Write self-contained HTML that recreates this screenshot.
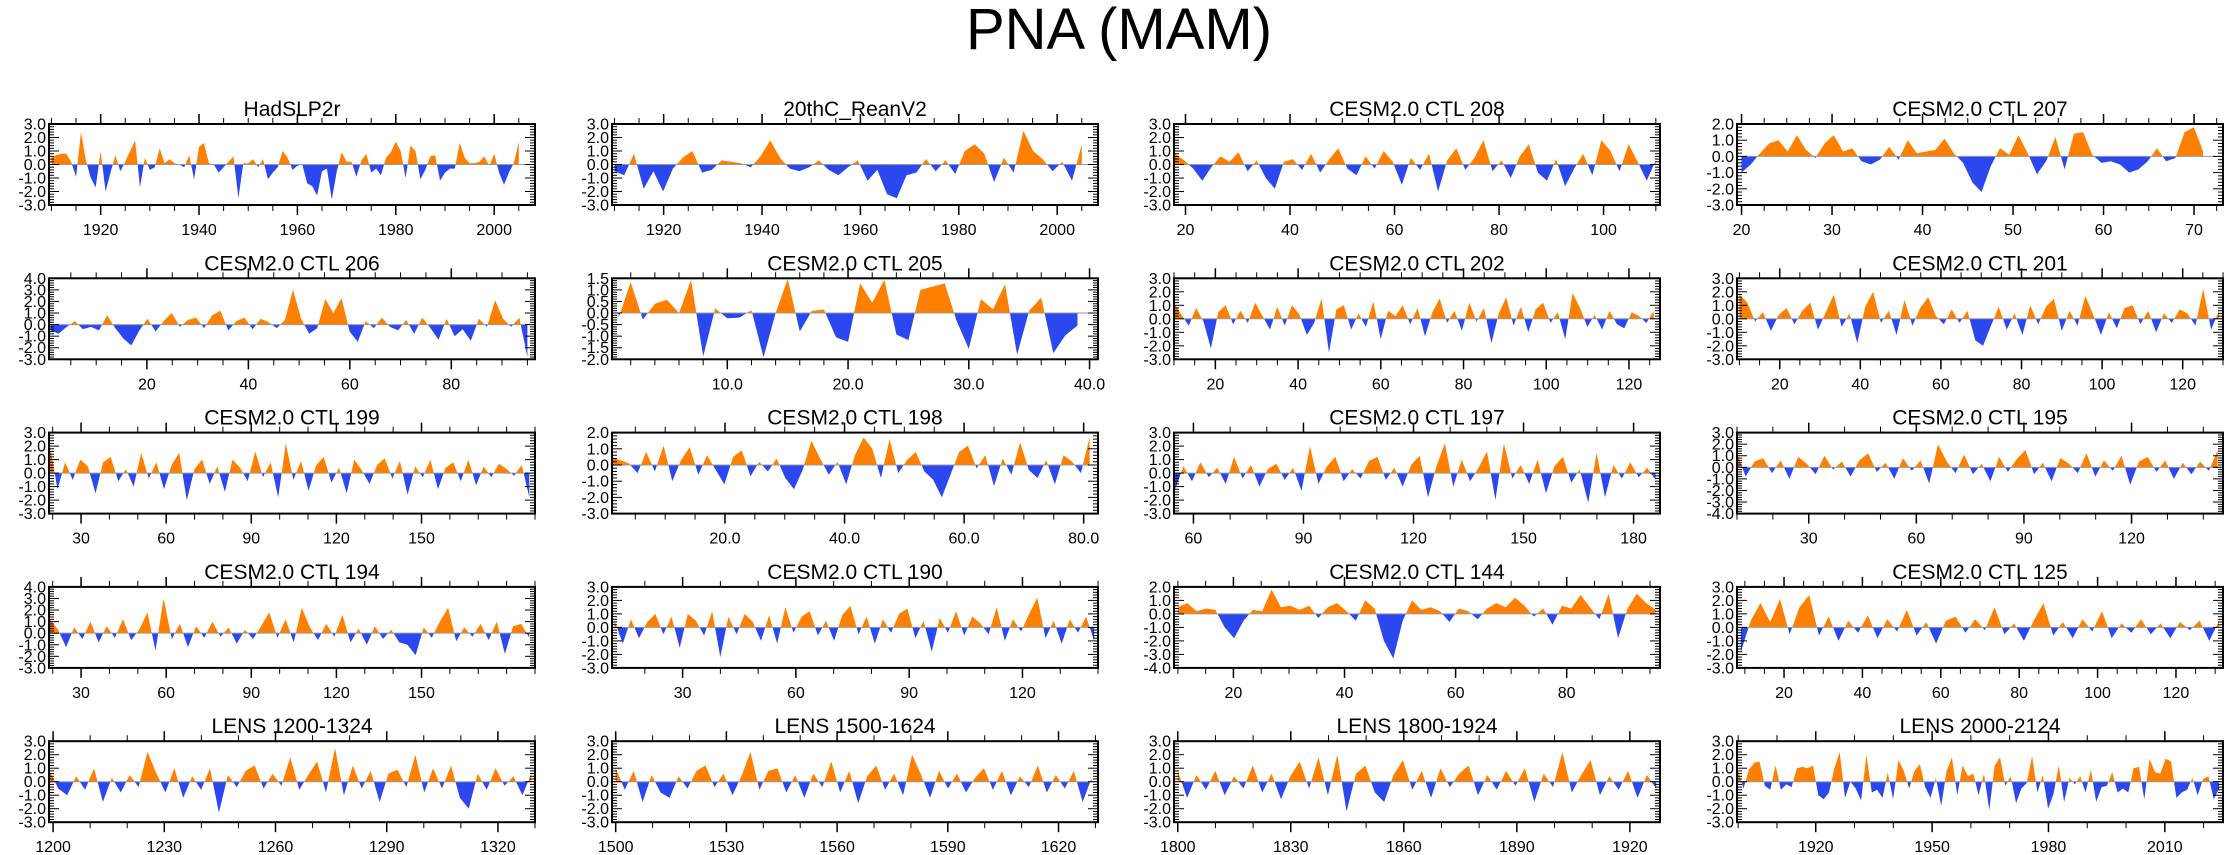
<!DOCTYPE html>
<html><head><meta charset="utf-8"><title>PNA (MAM)</title>
<style>
html,body{margin:0;padding:0;background:#fff;}
svg{display:block;font-family:"Liberation Sans",sans-serif;}
</style></head>
<body>
<svg id="fig" width="2238" height="855" viewBox="0 0 2238 855" xmlns="http://www.w3.org/2000/svg">
<text x="1119" y="49" text-anchor="middle" font-size="58" fill="#000">PNA (MAM)</text>
</svg>
<script>
const titles=["HadSLP2r","20thC_ReanV2","CESM2.0 CTL 208","CESM2.0 CTL 207","CESM2.0 CTL 206","CESM2.0 CTL 205","CESM2.0 CTL 202","CESM2.0 CTL 201","CESM2.0 CTL 199","CESM2.0 CTL 198","CESM2.0 CTL 197","CESM2.0 CTL 195","CESM2.0 CTL 194","CESM2.0 CTL 190","CESM2.0 CTL 144","CESM2.0 CTL 125","LENS 1200-1324","LENS 1500-1624","LENS 1800-1924","LENS 2000-2124"];
const yMin=[-3,-3,-3,-3,-3,-2,-3,-3,-3,-3,-3,-4,-3,-3,-4,-3,-3,-3,-3,-3];
const yMax=[3,3,3,2,4,1.5,3,3,3,2,3,3,4,3,2,3,3,3,3,3];
const yStep=[1,1,1,1,1,0.5,1,1,1,1,1,1,1,1,1,1,1,1,1,1];
const xAxisMin=[1909.5,1909.5,17.8,19.5,0.7,0.45,10,9.4,18.7,1.1,54.7,10,18.7,11.3,9.3,8,1198.9,1499,1799,1899.7];
const xAxisMax=[2008.3,2008.3,110.8,73.2,96.5,40.7,127.5,130,190,82.4,187.2,145.5,190,140,96.8,132,1330,1630.7,1928,2025];
const xDataStart=[1910,1910,18,20,1,1,10,10,19,1,55,10,19,12,10,9,1199,1500,1800,1900];
const xDataEnd=[2005,2005,110,71,95,39,126,129,188,81,186,144,188,139,96,131,1329,1629,1927,2024];
const xTickStart=[1920,1920,20,20,20,10,20,20,30,20,60,30,30,30,20,20,1200,1500,1800,1920];
const xTickEnd=[2000,2000,100,70,80,40,120,120,150,80,180,120,150,120,80,120,1320,1620,1920,2010];
const xTickStep=[20,20,20,10,20,10,20,20,30,20,30,30,30,30,20,20,30,30,30,30];
const xMinorStep=[5,5,5,2.5,5,2,5,5,10,5,10,10,10,10,5,5,10,10,10,10];
const xTickDecimals=[0,0,0,0,0,1,0,0,0,1,0,0,0,0,0,0,0,0,0,0];

const v1=[0.5,0.7,0.8,0.8,0.2,-0.9,2.4,0.3,-1.0,-1.7,1.0,-2.0,-0.6,0.7,-0.5,0.2,1.0,1.8,-1.7,0.5,-0.4,-0.2,1.2,0.1,0.4,0.1,0.0,-0.2,0.7,-1.1,1.3,1.6,0.1,0.0,-0.6,-0.2,0.2,0.6,-2.5,0.1,0.1,0.4,-0.2,0.4,-1.1,-0.6,-0.2,1.0,0.5,-0.4,-0.1,0.0,-1.4,-1.6,-2.3,-0.5,-0.3,-2.6,-0.5,0.9,0.2,0.2,-0.9,0.3,0.8,-0.6,-0.3,-0.8,0.5,0.9,1.7,1.0,-1.0,1.4,1.0,-1.1,-0.4,0.6,0.7,-1.2,-0.6,-0.3,-0.3,1.6,0.5,0.1,0.1,0.2,0.6,-0.1,0.8,-0.6,-1.5,-0.6,0.1,1.7];
const v2=[-0.5,-0.8,0.8,-1.8,-0.5,-2.0,-0.3,0.5,1.0,-0.6,-0.4,0.3,0.2,0.1,-0.2,0.6,1.8,0.5,-0.3,-0.5,-0.2,0.3,-0.4,-0.8,-0.2,0.3,-1.2,-0.4,-2.2,-2.5,-0.8,-0.6,0.4,-0.5,0.3,-0.7,1.0,1.5,0.8,-1.3,0.5,-0.6,2.5,1.0,0.4,-0.5,0.2,-1.2,1.5];
const v3=[0.8,0.3,-0.3,-1.2,-0.2,0.6,0.2,0.9,-0.5,0.3,-1.0,-1.8,0.2,0.4,-0.4,0.8,-0.6,0.4,1.2,-0.3,-0.8,0.6,-0.3,1.0,0.2,-1.5,0.5,-0.4,0.8,-2.0,0.3,1.2,-0.4,0.5,1.8,-0.5,0.3,-1.0,0.6,1.5,-0.6,-1.2,0.4,-1.6,-0.3,0.8,-0.8,1.8,1.0,-0.5,1.5,0.2,-1.2,0.3];
const v4=[-1.0,-0.5,0.2,0.8,1.0,0.3,1.3,0.4,-0.1,0.8,1.3,0.3,0.5,-0.3,-0.5,-0.2,0.6,-0.2,1.0,0.2,0.3,0.4,1.1,0.2,-0.4,-1.6,-2.2,-0.6,0.5,0.1,1.3,0.2,-1.1,-0.3,1.2,-0.8,1.4,1.5,0.1,-0.4,-0.3,-0.5,-1.0,-0.8,-0.3,0.5,-0.3,-0.1,1.5,1.8,0.3];
const v5=[-0.5,-0.8,-0.2,0.3,-0.4,-0.2,-0.5,0.8,-0.3,-1.2,-1.8,-0.5,0.5,-0.6,0.3,1.0,-0.2,0.4,0.6,-0.3,0.8,1.2,-0.5,0.3,0.6,-0.4,0.5,0.2,-0.3,0.4,3.0,0.5,-0.8,-0.3,2.2,1.0,2.3,-0.6,-1.5,0.3,-0.3,0.6,-0.2,-0.5,0.4,-0.8,0.6,-0.3,-1.3,0.5,-1.0,-0.4,-1.4,0.5,-0.2,2.1,0.5,-0.2,0.6,-2.8];
const v6=[-0.2,1.33,-0.28,0.4,0.57,0.0,1.43,-1.88,0.2,-0.23,-0.2,0.12,-1.92,0.0,1.47,-0.8,0.09,0.15,-1.05,-1.25,1.28,0.45,1.44,-0.93,-1.17,1.0,1.14,1.28,-0.35,-1.55,0.6,0.16,1.25,-1.8,0.1,0.67,-1.73,-0.96,-0.54];
const v7=[1.2,0.3,-0.5,0.8,-0.2,-2.2,0.5,1.0,-0.4,0.6,-0.3,1.2,0.2,-0.8,0.9,-0.5,1.0,0.3,-1.2,-0.3,1.5,-2.5,0.7,1.0,-0.8,0.4,-0.6,1.3,-1.5,0.6,0.2,1.0,-0.4,0.8,-1.3,0.5,1.5,-0.3,0.6,-0.9,1.2,-0.2,0.8,-1.8,0.4,1.6,-0.5,0.9,-1.0,0.7,1.2,-0.3,0.5,-1.5,1.9,0.8,-0.6,0.3,-0.8,0.6,-0.4,-0.7,0.5,0.2,-0.3,0.6];
const v8=[1.8,1.2,-0.2,0.5,-0.9,0.3,0.8,-0.4,0.6,1.2,-0.8,0.5,1.8,-0.6,0.4,-1.8,0.9,2.0,-0.3,0.6,-1.2,1.4,-0.5,0.8,1.6,0.2,-0.4,0.7,-0.3,0.6,-1.6,-2.0,-0.5,0.9,-0.8,0.4,-1.2,1.0,-0.4,0.9,1.5,-0.9,0.6,-0.5,1.7,0.3,-1.2,0.5,-0.7,0.8,1.0,-0.4,0.6,-1.0,0.4,-0.3,0.7,0.4,-0.5,2.2,-0.8,0.6];
const v9=[2.0,-1.2,0.8,-0.5,1.0,0.5,-1.5,0.8,1.2,-0.6,0.3,-1.0,1.5,-0.4,0.8,-1.2,0.6,1.5,-2.0,0.3,1.0,-0.8,0.5,-1.4,1.0,0.4,-0.6,1.6,-0.3,0.8,-1.8,2.2,-0.5,0.9,-1.3,0.6,1.2,-0.7,0.4,-1.5,1.0,0.2,-0.8,0.6,1.1,-0.4,0.9,-1.6,0.5,-0.3,1.0,-1.2,0.4,0.8,-0.6,1.0,-0.9,0.5,-0.3,0.7,0.3,-0.2,0.6,-1.8];
const v10=[0.5,0.3,0.1,-0.5,0.8,-0.4,1.2,-1.0,0.3,1.1,-0.6,0.6,-0.3,-1.2,0.5,0.9,-0.7,0.2,-0.4,0.4,-0.8,-1.5,-0.3,1.5,0.4,-0.6,0.2,-1.2,0.6,1.7,1.0,-0.8,1.6,-0.5,0.3,0.8,-0.4,-0.9,-2.0,-0.6,0.8,1.2,-0.2,0.6,-1.3,0.4,-0.6,1.4,-0.3,-0.8,0.3,-1.2,0.6,0.2,-0.5,1.7];
const v11=[-1.2,0.5,-0.6,0.8,-0.3,0.4,-0.8,1.2,-0.4,0.6,-1.0,0.3,0.7,-0.5,0.4,-1.3,2.0,-0.8,0.5,1.2,-0.6,0.3,-0.4,0.9,1.2,-0.5,0.4,-1.0,0.6,1.3,-1.8,0.5,2.2,-1.0,1.0,-0.6,0.4,1.6,-2.0,2.2,-0.4,0.6,-0.8,1.0,-1.5,0.5,1.2,-0.7,0.3,-2.2,1.5,-1.8,0.6,-0.4,0.8,-0.3,0.4,-0.5];
const v12=[1.2,-0.8,0.5,0.8,-0.5,0.6,-1.0,0.9,0.3,-0.6,1.0,-0.2,0.5,-0.8,0.6,1.2,-0.4,0.4,-1.0,0.8,-0.3,0.6,-1.4,2.0,0.5,-0.5,1.1,-0.6,0.3,-1.2,0.9,-0.4,0.7,1.5,-0.6,0.4,-1.2,0.8,0.3,-0.5,1.2,-0.8,0.6,-0.3,1.0,-1.5,0.5,0.9,-0.4,0.6,-1.0,0.4,-0.6,0.5,-0.3,1.5];
const v13=[1.2,0.3,-1.2,0.5,-0.5,1.0,-0.8,0.6,-0.4,1.2,-0.6,0.3,1.8,-1.5,3.0,-0.5,0.8,-1.2,0.6,-0.4,1.0,-0.3,0.5,-0.9,0.3,-0.5,0.6,1.8,-0.4,1.2,-0.8,2.2,0.5,-0.6,0.8,-0.3,1.6,-0.8,0.4,-1.0,0.6,-0.5,0.3,-0.8,-1.0,-1.9,0.5,-0.4,1.0,2.2,-0.7,0.5,-0.3,0.8,-0.6,1.0,-1.8,0.6,0.8,-0.4];
const v14=[0.5,-1.2,0.6,-0.8,0.4,1.0,-0.5,0.8,-1.5,1.0,0.5,-0.6,1.2,-2.2,0.8,-0.5,1.0,0.4,-1.0,0.9,-1.2,1.5,-0.4,0.8,1.2,-0.6,0.5,-1.0,0.9,1.6,-0.5,0.8,-1.2,0.6,-0.4,1.0,1.4,-0.8,0.5,-1.8,0.7,-0.4,1.2,-0.6,0.8,0.3,-0.5,1.5,-1.0,0.6,-0.3,1.0,2.2,-0.8,0.5,-1.2,0.6,-0.4,0.8,-1.0];
const v15=[0.5,0.8,0.2,0.4,0.3,-1.0,-1.8,-0.5,0.3,0.2,1.8,0.5,0.6,0.3,0.6,-0.3,0.5,0.8,0.2,-0.5,1.0,0.4,-2.0,-3.3,-0.5,1.0,0.3,0.5,0.2,-0.6,0.4,0.2,-0.4,0.4,0.8,0.5,1.2,0.6,-0.2,0.4,-0.8,0.6,0.4,1.4,0.5,-0.4,1.5,-1.8,0.4,1.5,0.8,0.3];
const v16=[-1.8,0.5,1.8,0.4,2.1,-0.5,1.5,2.4,-0.6,0.8,-1.0,0.5,-0.4,0.9,-0.8,0.6,-0.3,1.3,-0.6,0.4,-1.2,0.5,0.8,-0.4,0.6,-0.2,1.5,-0.5,0.3,-1.0,0.5,1.8,-0.6,0.4,-0.8,0.6,-0.3,1.2,-0.8,0.3,-0.4,0.6,-0.5,0.3,-0.8,0.4,-0.2,0.5,-1.0,0.5];
const v17=[0.8,-0.5,-1.0,0.4,-0.6,1.0,-1.5,0.3,-0.8,0.5,-0.4,2.2,0.6,-0.8,1.0,-1.2,0.4,-0.6,1.0,-2.3,0.5,-0.4,0.8,1.2,-0.5,0.6,-0.3,1.8,-0.6,0.5,1.5,-0.8,2.5,-1.0,1.2,-0.5,0.8,-1.5,0.6,0.9,-0.4,2.0,-0.8,1.0,-0.5,1.2,-1.2,-2.0,0.6,-0.6,1.0,-0.3,0.4,-1.0,0.6];
const v18=[1.0,-0.6,0.8,-1.5,0.5,-0.8,-1.2,0.4,-0.5,0.8,1.2,-0.4,0.6,-1.0,0.4,2.2,-0.6,0.8,1.0,-0.8,0.5,-1.2,0.6,-0.4,1.5,-0.8,0.8,-1.6,0.4,1.2,-0.6,0.6,-1.0,2.0,0.5,-1.2,0.8,-0.5,0.6,-0.8,0.3,1.0,-0.6,0.8,-1.0,0.4,-0.4,1.2,-0.8,0.5,-0.5,0.8,-1.5,0.3];
const v19=[0.8,-1.2,0.5,-0.6,0.8,-1.0,0.4,-0.5,1.2,-0.8,0.6,-1.3,0.4,1.5,-0.5,1.8,-1.0,2.0,-2.2,0.6,1.2,-0.8,-1.5,0.5,1.6,-0.6,0.8,-1.2,1.0,-0.4,0.6,1.2,-1.0,0.5,-0.6,0.8,-0.3,1.0,-1.5,0.6,-0.4,2.2,-0.8,0.5,1.6,-1.0,0.4,-0.6,0.8,-1.2,0.5,-0.5];
const v20=[0.8,-0.5,0.9,1.4,1.5,-0.3,-0.6,1.2,-0.6,-0.2,-0.4,1.0,1.1,1.0,1.2,-1.0,-1.3,-0.8,1.0,2.2,-1.2,0.0,-0.5,-1.4,2.0,-0.8,-0.6,-1.2,0.7,-1.3,1.6,0.8,-0.5,0.8,1.3,-0.4,-1.2,0.3,-1.8,0.8,1.8,-1.0,1.2,0.4,0.6,-1.0,0.6,-2.1,1.2,1.8,-0.3,0.4,-1.6,-0.5,-0.1,1.9,-0.8,0.5,-2.0,-0.9,1.2,-1.5,0.3,-0.2,0.4,-0.8,0.9,-1.5,-0.4,-0.3,0.7,-0.8,-0.5,-0.8,1.0,1.1,-1.3,1.7,0.7,0.6,1.7,1.5,-1.2,-0.8,-0.6,0.3,-1.0,0.2,0.4,-1.3,-0.5];
const series=[v1,v2,v3,v4,v5,v6,v7,v8,v9,v10,v11,v12,v13,v14,v15,v16,v17,v18,v19,v20];

const NS="http://www.w3.org/2000/svg";
const svg=document.getElementById('fig');
const colLeft=[49,612,1174,1737], plotW=486, plotH=81, rowTop0=124, rowGap=154.3;
function mk(tag,attrs,parent){const e=document.createElementNS(NS,tag);for(const k in attrs)e.setAttribute(k,attrs[k]);(parent||svg).appendChild(e);return e;}
const defs=mk('defs',{});

for(let p=0;p<20;p++){
  const r=Math.floor(p/4), c=p%4;
  const L=colLeft[c], T=rowTop0+r*rowGap, R=L+plotW, B=T+plotH;
  const xs=v=>L+(v-xAxisMin[p])/(xAxisMax[p]-xAxisMin[p])*plotW;
  const ys=v=>B-(v-yMin[p])/(yMax[p]-yMin[p])*plotH;
  const g=mk('g',{});
  
  
  const t=mk('text',{x:(L+R)/2,y:T-8,'text-anchor':'middle','font-size':21,fill:'#000'},g);
  
  
  t.textContent=titles[p];
  const z=ys(0);
  const cpA=mk('clipPath',{id:'ca'+p},defs); mk('rect',{x:L,y:T,width:plotW,height:z-T},cpA);
  const cpB=mk('clipPath',{id:'cb'+p},defs); mk('rect',{x:L,y:z,width:plotW,height:B-z},cpB);
  const vals=series[p], n=vals.length;
  let d='M'+xs(xDataStart[p]).toFixed(1)+','+z.toFixed(1);
  for(let i=0;i<n;i++){const xv=xDataStart[p]+i*(xDataEnd[p]-xDataStart[p])/(n-1);d+=' L'+xs(xv).toFixed(1)+','+ys(vals[i]).toFixed(1);}
  d+=' L'+xs(xDataEnd[p]).toFixed(1)+','+z.toFixed(1)+' Z';
  const pa=mk('path',{d:d,fill:'#ff8000','clip-path':'url(#ca'+p+')'},g);
  
  
  const pb=mk('path',{d:d,fill:'#2b48f0','clip-path':'url(#cb'+p+')'},g);
  
  
  const zl=mk('line',{x1:L,x2:R,y1:z,y2:z,stroke:'#999','stroke-width':1},g);
  
  
  const fr=mk('rect',{x:L,y:T,width:plotW,height:plotH,fill:'none',stroke:'#000','stroke-width':2},g);
  
  
  const ym=yStep[p]/5;
  for(let k=0;;k++){const v=yMin[p]+k*ym; if(v>yMax[p]+1e-6)break;
    const major=Math.abs(Math.round(v/yStep[p])*yStep[p]-v)<1e-6; const len=major?10:5; const y=ys(v);
    mk('line',{x1:L,x2:L+len,y1:y,y2:y,stroke:'#000','stroke-width':1},g);
    mk('line',{x1:R,x2:R-len,y1:y,y2:y,stroke:'#000','stroke-width':1},g);
    if(major){const yl=mk('text',{x:L-3,y:y+5.5,'text-anchor':'end','font-size':16,fill:'#000'},g);
      
      
      yl.textContent=(Math.abs(v)<1e-9?0:v).toFixed(1);}
  }
  const mstart=Math.ceil(xAxisMin[p]/xMinorStep[p])*xMinorStep[p];
  for(let v=mstart; v<=xAxisMax[p]+1e-6; v+=xMinorStep[p]){const x=xs(v);
    mk('line',{x1:x,x2:x,y1:T,y2:T-6,stroke:'#000','stroke-width':1},g);
    mk('line',{x1:x,x2:x,y1:B,y2:B+6,stroke:'#000','stroke-width':1},g);}
  for(let v=xTickStart[p]; v<=xTickEnd[p]+1e-6; v+=xTickStep[p]){const x=xs(v);
    mk('line',{x1:x,x2:x,y1:T,y2:T-10,stroke:'#000','stroke-width':1.5},g);
    mk('line',{x1:x,x2:x,y1:B,y2:B+10,stroke:'#000','stroke-width':1.5},g);
    const xl=mk('text',{x:x,y:B+30,'text-anchor':'middle','font-size':16,fill:'#000'},g);
    
    
    xl.textContent=v.toFixed(xTickDecimals[p]);}
}
</script>
</body></html>
